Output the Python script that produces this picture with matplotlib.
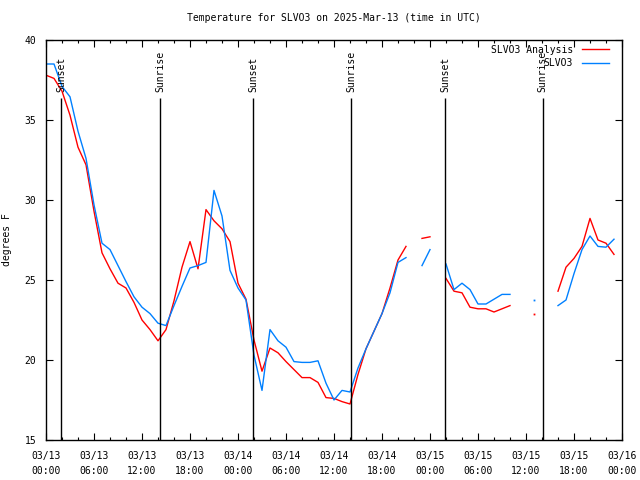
import numpy as np
import pandas as pd
import matplotlib
matplotlib.use('Agg')
import matplotlib.pyplot as plt
import matplotlib.dates as mdates

nan = np.nan

# hourly values, 2025-03-13 00:00 .. 2025-03-16 00:00 UTC
times = pd.date_range('2025-03-13 00:00', periods=73, freq='h')

analysis = [37.8, 37.6, 36.8, 35.3, 33.3, 32.2, 29.3, 26.7, 25.7, 24.8,
            24.5, 23.6, 22.5, 21.9, 21.2, 21.9, 23.7, 25.8, 27.4, 25.7,
            29.4, 28.7, 28.2, 27.4, 24.8, 23.8, 21.25, 19.3, 20.75, 20.45,
            19.9, 19.4, 18.9, 18.9, 18.6, 17.65, 17.6, 17.4, 17.25, 19.1,
            20.7, 21.8, 22.9, 24.5, 26.25, 27.1, nan, 27.6, 27.7, nan,
            25.1, 24.3, 24.2, 23.3, 23.2, 23.2, 23.0, 23.2, 23.4, nan,
            nan, 22.9, nan, nan, 24.3, 25.8, 26.35, 27.1, 28.85, 27.5,
            27.3, 26.6, nan]

observed = [38.5, 38.5, 37.1, 36.45, 34.3, 32.6, 29.7, 27.3, 26.9, 25.9,
            24.9, 23.95, 23.3, 22.9, 22.3, 22.15, 23.4, 24.6, 25.75, 25.9,
            26.1, 30.6, 29.0, 25.6, 24.5, 23.75, 20.3, 18.1, 21.9, 21.2,
            20.8, 19.9, 19.85, 19.85, 19.95, 18.55, 17.5, 18.1, 18.0, 19.5,
            20.7, 21.8, 22.9, 24.2, 26.1, 26.4, nan, 25.9, 26.9, nan,
            26.0, 24.4, 24.8, 24.4, 23.5, 23.5, 23.8, 24.1, 24.1, nan,
            nan, 23.75, nan, nan, 23.4, 23.75, 25.4, 26.9, 27.75, 27.1,
            27.05, 27.55, nan]

sun_events = ['Sunset', 'Sunrise', 'Sunset', 'Sunrise', 'Sunset', 'Sunrise']
sun_times = pd.to_datetime(['2025-03-13 01:55', '2025-03-13 14:17',
                            '2025-03-14 01:55', '2025-03-14 14:08',
                            '2025-03-15 01:55', '2025-03-15 14:04'])

mono = 'DejaVu Sans Mono'
plt.rcParams['font.family'] = mono
plt.rcParams['font.size'] = 7

fig = plt.figure(figsize=(6.4, 4.8), dpi=100)
ax = fig.add_axes([46 / 640, 40 / 480, 576 / 640, 400 / 480])

series = [(analysis, '#ff0000', 'SLVO3 Analysis'), (observed, '#0080ff', 'SLVO3')]
for vals, col, lab in series:
    s = pd.Series(vals, index=times)
    ax.plot(s.index, s.values, color=col, lw=1.0, label=lab)
    # gnuplot still shows lone points between gaps
    lone = s.notna() & s.shift(1).isna() & s.shift(-1).isna()
    ax.plot(s.index[lone], s.values[lone], ls='none', marker='s',
            ms=1.3, color=col, mew=0)

for t, ev in zip(sun_times, sun_events):
    ax.vlines(t, 15, 36.4, color='black', lw=1.0)
    ax.text(t, 36.75, ev, rotation=90, ha='center', va='bottom', fontsize=7)

ax.set_xlim(times[0], times[-1])
ax.set_ylim(15, 40)
ax.xaxis.set_major_locator(mdates.HourLocator(byhour=range(0, 24, 6)))
ax.xaxis.set_minor_locator(mdates.HourLocator(byhour=range(0, 24, 2)))
ax.xaxis.set_major_formatter(mdates.DateFormatter('%m/%d\n%H:%M'))
ax.set_yticks(range(15, 41, 5))
ax.tick_params(which='both', direction='in', top=True, right=True)
ax.tick_params(which='major', length=5, width=0.8, labelsize=7, pad=7)
ax.tick_params(axis='x', which='major', pad=8)
ax.tick_params(which='minor', length=2.5, width=0.8)
for lbl in ax.get_xticklabels():
    lbl.set_linespacing(1.6)
for sp in ax.spines.values():
    sp.set_linewidth(1.0)

ax.set_ylabel('degrees F', fontsize=7, labelpad=9)
ax.set_title('Temperature for SLVO3 on 2025-Mar-13 (time in UTC)',
             fontsize=7, pad=14)

ax.legend(loc='upper right', bbox_to_anchor=(1 - 8 / 576, 1), frameon=False,
          markerfirst=False, fontsize=7, handlelength=2.8,
          handletextpad=0.9, labelspacing=0.35, borderaxespad=0.3,
          borderpad=0.2)

fig.savefig('out.png', dpi=100)
